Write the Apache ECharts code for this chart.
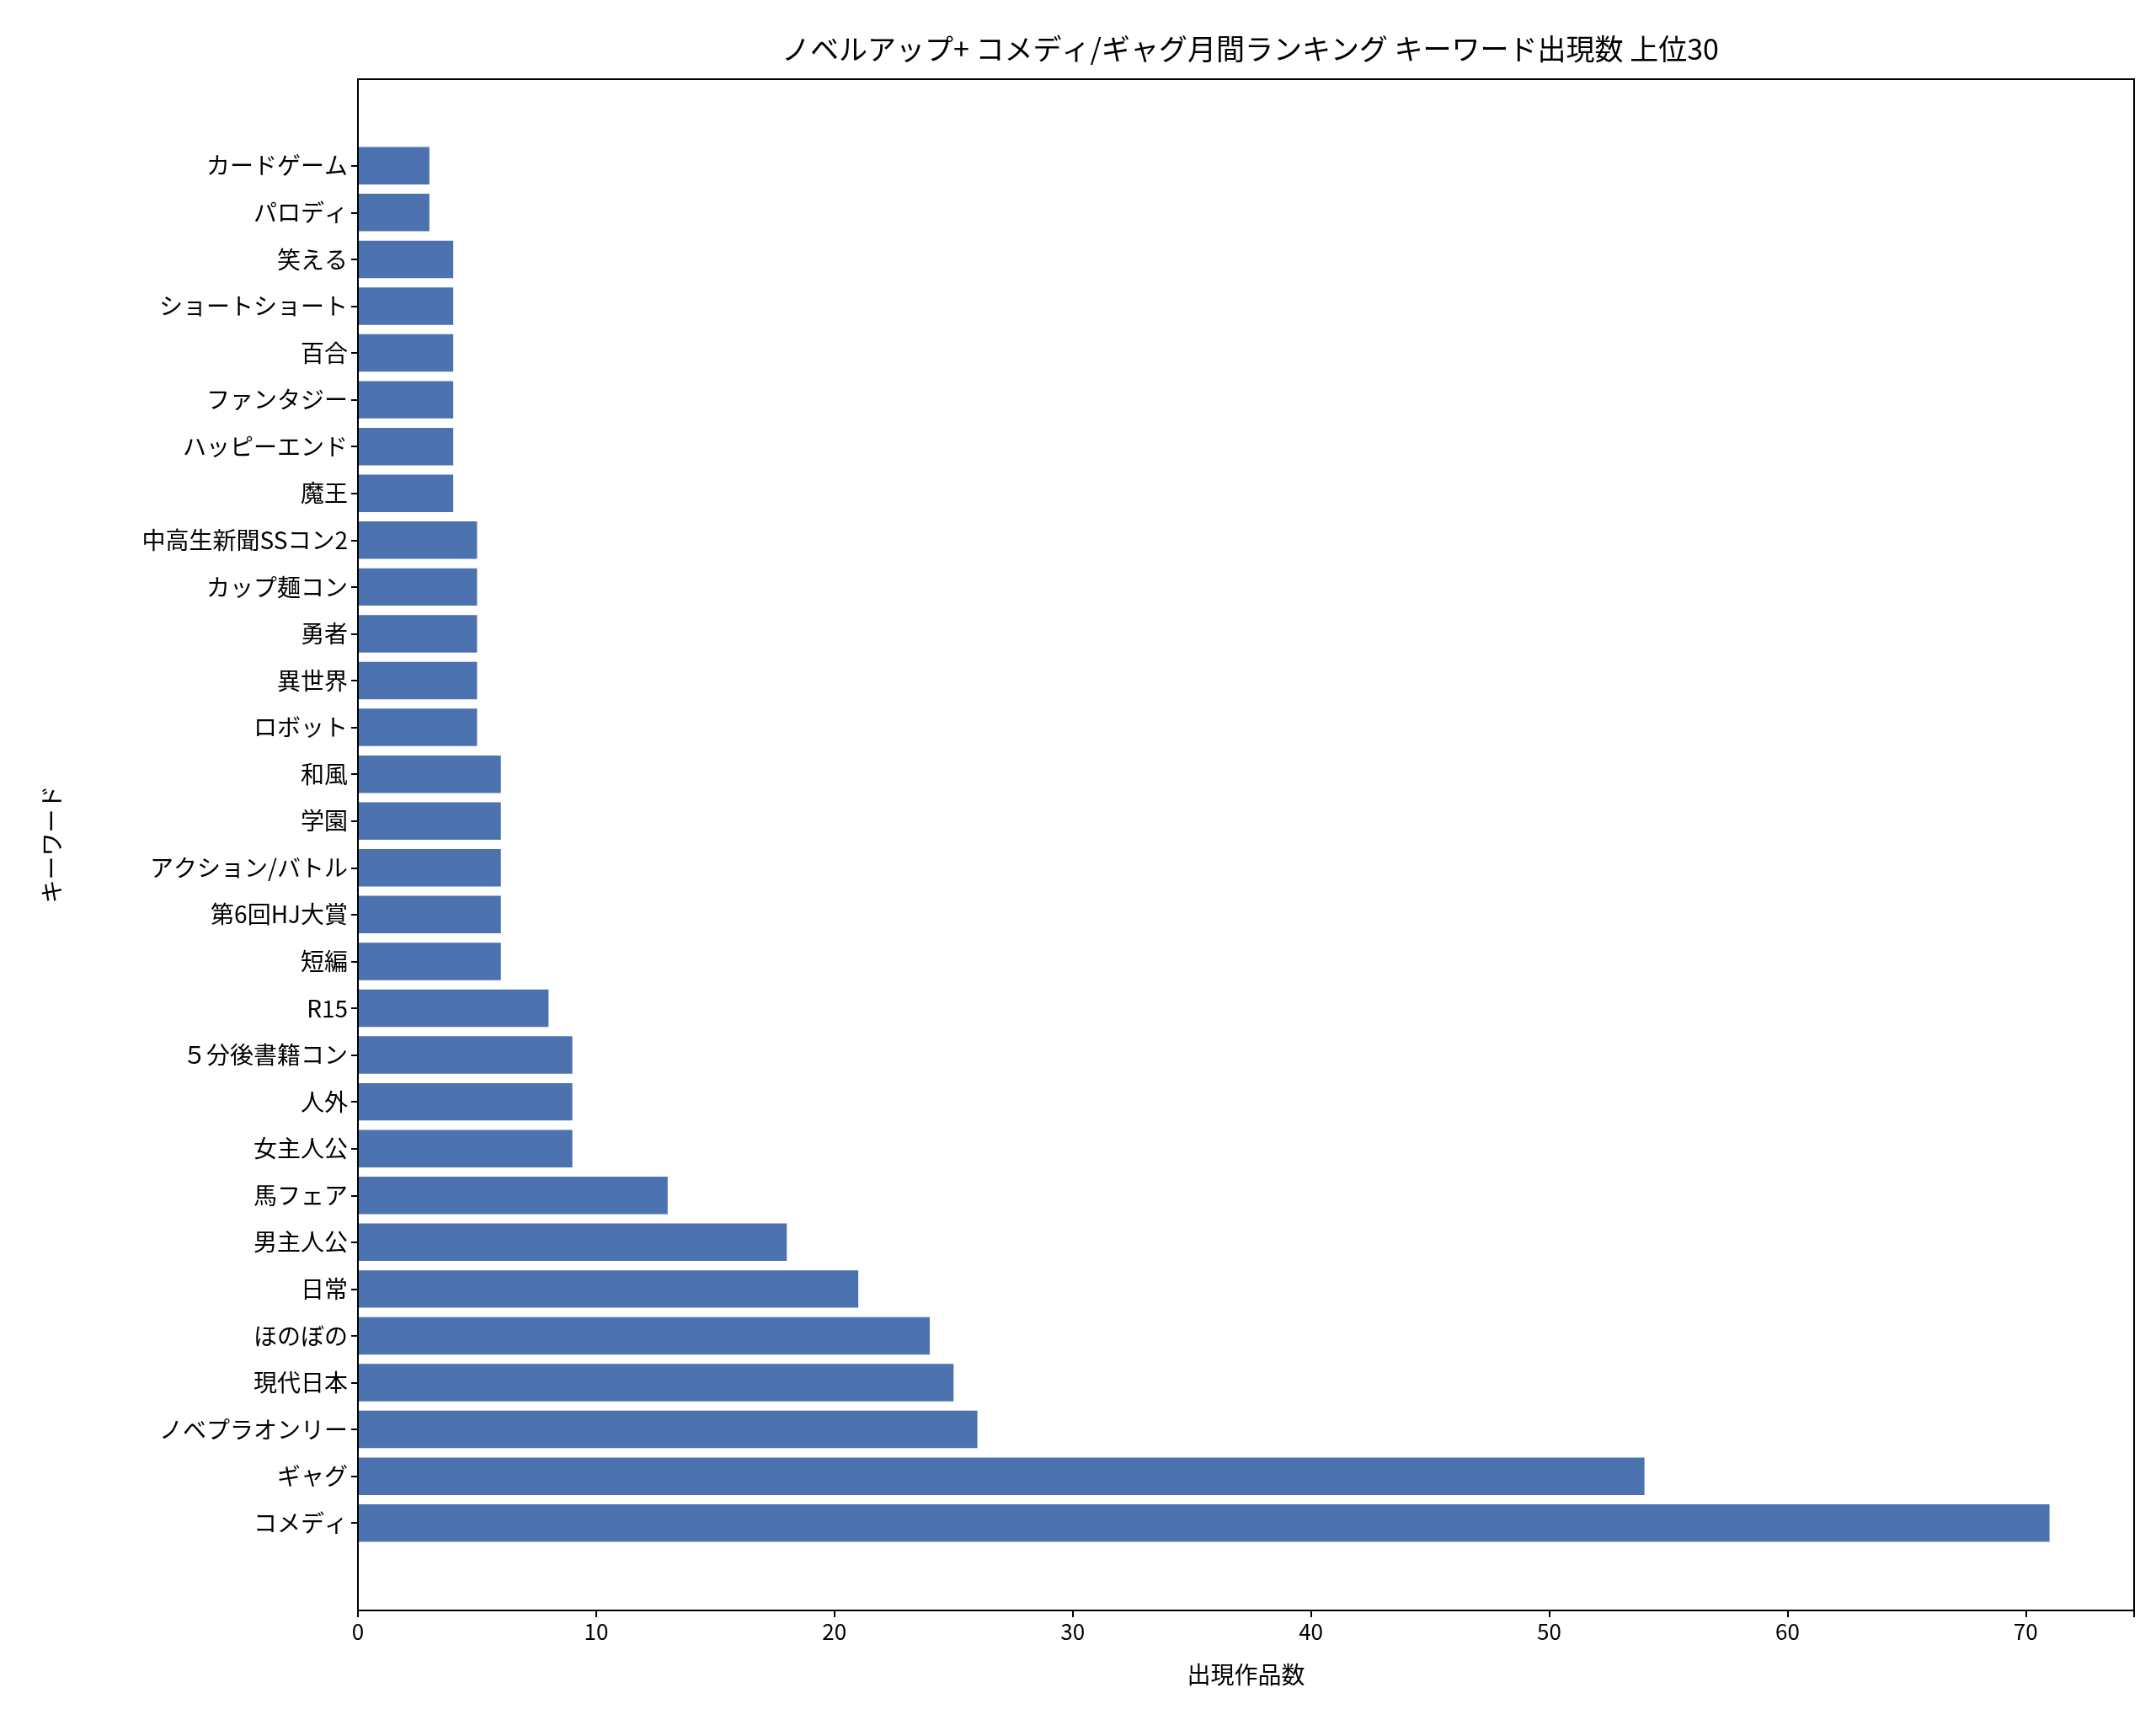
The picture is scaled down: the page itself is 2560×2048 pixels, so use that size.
<!DOCTYPE html>
<html><head><meta charset="utf-8">
<script src="https://cdn.jsdelivr.net/npm/echarts@6/dist/echarts.min.js"></script>
<style>html,body{margin:0;background:#fff}#c{width:2560px;height:2048px}</style>
</head><body><div id="c"></div>
<script>
const categories = ["コメディ","ギャグ","ノベプラオンリー","現代日本","ほのぼの","日常","男主人公","馬フェア","女主人公","人外","５分後書籍コン","R15","短編","第6回HJ大賞","アクション/バトル","学園","和風","ロボット","異世界","勇者","カップ麺コン","中高生新聞SSコン2","魔王","ハッピーエンド","ファンタジー","百合","ショートショート","笑える","パロディ","カードゲーム"];
const counts = [71,54,26,25,24,21,18,13,9,9,9,8,6,6,6,6,6,5,5,5,5,5,4,4,4,4,4,4,3,3];
const xTicks = [0,10,20,30,40,50,60,70];
const F = '"Noto Sans CJK JP", sans-serif';
const chart = echarts.init(document.getElementById('c'));
chart.setOption({
  animation:false,
  title:{text:'ノベルアップ+ コメディ/ギャグ月間ランキング キーワード出現数 上位30',left:(425+2534)/2,textAlign:'center',top:36,textStyle:{fontFamily:F,fontWeight:'normal',fontSize:34,color:'#000'}},
  grid:{left:425,right:26,top:169,bottom:212},
  graphic:[{type:'rect',shape:{x:425,y:94,width:2109,height:1818},style:{fill:'none',stroke:'#000',lineWidth:2},z:100}],
  xAxis:{type:'value',min:0,max:74.55,interval:10,offset:76,
    name:'出現作品数',nameLocation:'middle',nameGap:62,nameTextStyle:{fontFamily:F,fontSize:28,color:'#000'},
    axisLine:{show:true,lineStyle:{color:'#000',width:2}},axisTick:{show:true,length:8,lineStyle:{color:'#000',width:2}},
    axisLabel:{fontFamily:F,fontSize:26,color:'#000',margin:12,formatter:v=>xTicks.includes(v)?String(v):''},splitLine:{show:false}},
  yAxis:{type:'category',data:categories,
    name:'キーワード',nameLocation:'middle',nameGap:350,nameRotate:90,nameTextStyle:{fontFamily:F,fontSize:28,color:'#000'},
    axisLine:{show:false},axisTick:{show:true,alignWithLabel:true,length:8,lineStyle:{color:'#000',width:2}},
    axisLabel:{fontFamily:F,fontSize:28,color:'#000',margin:12}},
  series:[{type:'bar',data:counts,barWidth:'80%',itemStyle:{color:'#4c72b0'}}]
});
</script></body></html>
